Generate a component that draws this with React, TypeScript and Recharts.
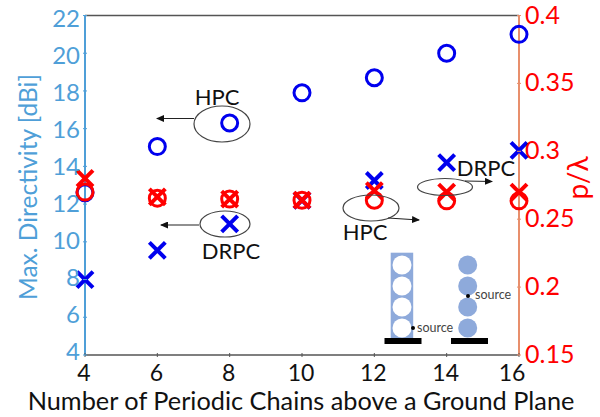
import { ScatterChart, Scatter, XAxis, YAxis } from 'recharts';

const chains = [4, 6, 8, 10, 12, 14, 16];
const hpcDirectivity = [12.6, 15.05, 16.3, 17.9, 18.7, 20.0, 21.0];
const drpcDirectivity = [8.0, 9.55, 10.95, 12.2, 13.25, 14.2, 14.85];
const hpcPeriod = [0.27, 0.2655, 0.2648, 0.264, 0.264, 0.2635, 0.2635];
const drpcPeriod = [0.28, 0.2665, 0.2648, 0.264, 0.271, 0.27, 0.27];

const leftTicks = [4, 6, 8, 10, 12, 14, 16, 18, 20, 22];
const rightTicks = [0.15, 0.2, 0.25, 0.3, 0.35, 0.4];

const FONT = 'Lato, "Open Sans", sans-serif';
const BLUE_AXIS = '#4f9fd8';
const ORANGE_AXIS = '#e88f6c';
const INSET = '#8eaadb';

const rows = (ys: number[]) => chains.map((x, i) => ({ x, y: ys[i] }));

const Ring = ({ cx, cy, color }: any) => (
  <circle cx={cx} cy={cy} r={8} fill="none" stroke={color} strokeWidth={3} />
);

const Cross = ({ cx, cy, color }: any) => (
  <path
    d={`M${cx - 8} ${cy - 8}L${cx + 8} ${cy + 8}M${cx - 8} ${cy + 8}L${cx + 8} ${cy - 8}`}
    stroke={color}
    strokeWidth={4}
    fill="none"
  />
);

const BottomTick = ({ x, y, payload }: any) => (
  <g>
    <line x1={x} x2={x} y1={y - 6} y2={y - 10} stroke="#555" />
    <text x={x - (payload.value === 16 ? 7 : 1)} y={y + 18} textAnchor="middle" fontFamily={FONT} fontSize={23} fill="#111">
      {payload.value}
    </text>
  </g>
);

const TopTick = ({ x, y }: any) => <line x1={x} x2={x} y1={y + 6} y2={y + 10} stroke="#555" />;

const LeftTick = ({ x, y, payload }: any) => (
  <g>
    <line x1={x + 6} x2={x + 10} y1={y} y2={y} stroke={BLUE_AXIS} />
    <text x={x + 3} y={y + 11 - (22 - payload.value) * 0.36} textAnchor="end" fontFamily={FONT} fontSize={24} fill={BLUE_AXIS}>
      {payload.value}
    </text>
  </g>
);

const RightTick = ({ x, y, payload }: any) => (
  <g>
    <line x1={x - 6} x2={x - 10} y1={y} y2={y} stroke={ORANGE_AXIS} />
    <text x={x - 2} y={y + 8} fontFamily={FONT} fontSize={25} fill="#ff0000">
      {payload.value}
    </text>
  </g>
);

const Note = ({ x, y, children }: any) => (
  <text x={x} y={y} textAnchor="middle" fontFamily={FONT} fontSize={22} fill="#111">
    {children}
  </text>
);

const Oval = ({ cx, cy, rx, ry }: any) => (
  <ellipse cx={cx} cy={cy} rx={rx} ry={ry} fill="none" stroke="#444" strokeWidth={1.2} />
);

const Arrow = ({ x1, y1, x2, y2 }: any) => (
  <line x1={x1} y1={y1} x2={x2} y2={y2} stroke="#222" strokeWidth={1.2} markerEnd="url(#head)" />
);

// callouts and the two little unit-cell sketches sit on top of the plot
function Overlay() {
  return (
    <svg width={600} height={417} style={{ position: 'absolute', left: 0, top: 0 }}>
      <defs>
        <marker id="head" markerWidth="8" markerHeight="7" refX="7" refY="3.5" orient="auto" markerUnits="userSpaceOnUse">
          <path d="M0 0L8 3.5L0 7Z" fill="#111" />
        </marker>
      </defs>

      <Oval cx={222} cy={124} rx={28} ry={18} />
      <Arrow x1={194} y1={118.5} x2={157} y2={118.5} />
      <Note x={217} y={105}>HPC</Note>

      <Oval cx={225} cy={224} rx={25} ry={13} />
      <Arrow x1={199} y1={225} x2={161} y2={225} />
      <Note x={231} y={259}>DRPC</Note>

      <Oval cx={371} cy={208} rx={28} ry={13} />
      <Arrow x1={388} y1={218} x2={419} y2={220} />
      <Note x={365} y={240}>HPC</Note>

      <Oval cx={445} cy={187} rx={27.5} ry={8.5} />
      <Arrow x1={465} y1={181} x2={492} y2={181.5} />
      <Note x={486} y={176}>DRPC</Note>

      <rect x={390.7} y={252.7} width={22.5} height={86} fill={INSET} />
      {[265, 286, 307, 328].map((cy) => (
        <circle key={cy} cx={402} cy={cy} r={9.5} fill="#fff" />
      ))}
      <rect x={384.5} y={338} width={37} height={6} fill="#000" />
      <circle cx={413} cy={328} r={2} fill="#000" />
      <text x={417} y={332} fontFamily={FONT} fontSize={12.5} fill="#444">source</text>

      {[265, 286, 307, 328].map((cy) => (
        <circle key={cy} cx={467.7} cy={cy} r={9.5} fill={INSET} />
      ))}
      <rect x={451} y={338} width={37} height={6} fill="#000" />
      <circle cx={468} cy={296} r={2} fill="#000" />
      <text x={475} y={299} fontFamily={FONT} fontSize={12.5} fill="#444">source</text>
    </svg>
  );
}

export default function App() {
  return (
    <div style={{ position: 'absolute', left: 0, top: 0, width: 600, height: 417, background: '#fff' }}>
      <ScatterChart width={600} height={417} margin={{ top: 0, right: 0, bottom: 0, left: 0 }}>
        <XAxis
          type="number"
          dataKey="x"
          xAxisId="bottom"
          domain={[4, 16]}
          ticks={chains}
          height={62}
          axisLine={{ stroke: '#555', strokeWidth: 1.5 }}
          tickLine={false}
          tick={<BottomTick />}
          interval={0}
        />
        <XAxis
          type="number"
          dataKey="x"
          xAxisId="top"
          orientation="top"
          domain={[4, 16]}
          ticks={chains}
          height={15.5}
          axisLine={{ stroke: '#555', strokeWidth: 1.5 }}
          tickLine={false}
          tick={<TopTick />}
          interval={0}
        />
        <YAxis
          type="number"
          dataKey="y"
          yAxisId="left"
          domain={[4, 22]}
          ticks={leftTicks}
          width={85}
          axisLine={{ stroke: BLUE_AXIS, strokeWidth: 2 }}
          tickLine={false}
          tick={<LeftTick />}
          interval={0}
        />
        <YAxis
          type="number"
          dataKey="y"
          yAxisId="right"
          orientation="right"
          domain={[0.15, 0.4]}
          ticks={rightTicks}
          width={81}
          axisLine={{ stroke: ORANGE_AXIS, strokeWidth: 2 }}
          tickLine={false}
          tick={<RightTick />}
          interval={0}
        />
        <Scatter xAxisId="bottom" yAxisId="left" data={rows(hpcDirectivity)} isAnimationActive={false} shape={<Ring color="#0000ee" />} />
        <Scatter xAxisId="bottom" yAxisId="left" data={rows(drpcDirectivity)} isAnimationActive={false} shape={<Cross color="#0000ee" />} />
        <Scatter xAxisId="bottom" yAxisId="right" data={rows(hpcPeriod)} isAnimationActive={false} shape={<Ring color="#ff0000" />} />
        <Scatter xAxisId="bottom" yAxisId="right" data={rows(drpcPeriod)} isAnimationActive={false} shape={<Cross color="#ff0000" />} />
      </ScatterChart>

      <Overlay />

      <div style={{ position: 'absolute', left: 0, width: 602, top: 385, textAlign: 'center', fontFamily: FONT, fontSize: 25.3, lineHeight: '30px', color: '#111', whiteSpace: 'nowrap' }}>
        Number of Periodic Chains above a Ground Plane
      </div>
      <div style={{ position: 'absolute', left: 27, top: 187, width: 0, height: 0 }}>
        <div style={{ transform: 'translate(-50%, -50%) rotate(-90deg)', fontFamily: FONT, fontSize: 24.5, color: BLUE_AXIS, whiteSpace: 'nowrap', width: 'max-content' }}>
          Max. Directivity [dBi]
        </div>
      </div>
      <div style={{ position: 'absolute', left: 577, top: 178, width: 0, height: 0 }}>
        <div style={{ transform: 'translate(-50%, -50%) rotate(-90deg)', fontFamily: FONT, fontSize: 28, color: '#ff0000', whiteSpace: 'nowrap', width: 'max-content' }}>
          p/λ
        </div>
      </div>
    </div>
  );
}
